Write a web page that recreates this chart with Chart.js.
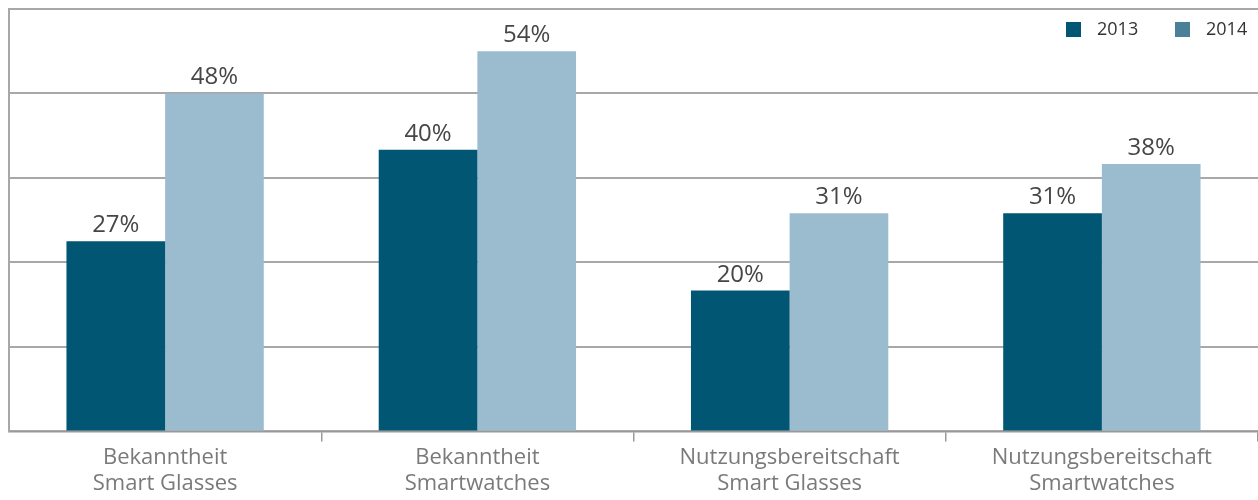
<!DOCTYPE html>
<html>
<head>
<meta charset="utf-8">
<script src="https://cdn.jsdelivr.net/npm/chart.js@4.4.1/dist/chart.umd.min.js"></script>
<style>
    html, body { margin: 0; padding: 0; background: #fff; }
    #wrap { width: 1258px; height: 500px; }
</style>
</head>
<body>
<div id="wrap"><canvas id="ourChart"></canvas></div>
<script>
var categories = [
    ["Bekanntheit", "Smart Glasses"],
    ["Bekanntheit", "Smartwatches"],
    ["Nutzungsbereitschaft", "Smart Glasses"],
    ["Nutzungsbereitschaft", "Smartwatches"]
];
var values2013 = [27, 40, 20, 31];
var values2014 = [48, 54, 31, 38];
var seriesNames = ["2013", "2014"];

var barColors = ["#005673", "#9bbcce"];
var legendColors = ["#005673", "#4a8199"];

// Prozentwerte über die Balken schreiben
var valueLabels = {
    id: 'valueLabels',
    afterDatasetsDraw: function (chart) {
        var ctx = chart.ctx;
        ctx.save();
        ctx.font = '24px "Open Sans"';
        ctx.fillStyle = '#464646';
        ctx.textAlign = 'center';
        ctx.textBaseline = 'alphabetic';
        chart.data.datasets.forEach(function (ds, i) {
            chart.getDatasetMeta(i).data.forEach(function (bar, j) {
                ctx.fillText(ds.data[j] + '%', bar.x, bar.y - 9);
            });
        });
        ctx.restore();
    }
};

// Legende oben rechts im Diagrammbereich
var cornerLegend = {
    id: 'cornerLegend',
    afterDraw: function (chart) {
        var ctx = chart.ctx;
        var area = chart.chartArea;
        var x = area.right - 192;
        var y = area.top + 20;
        ctx.save();
        ctx.font = '18px "Open Sans"';
        ctx.textBaseline = 'middle';
        ctx.textAlign = 'left';
        seriesNames.forEach(function (name, i) {
            ctx.fillStyle = legendColors[i];
            ctx.fillRect(x, y - 7, 15, 15);
            ctx.fillStyle = '#333';
            ctx.fillText(name, x + 31, y + 1);
            x += 109;
        });
        ctx.restore();
    }
};

var chartElement = new Chart(document.getElementById("ourChart"), {
    type: 'bar',
    data: {
        labels: categories,
        datasets: [
            {
                label: seriesNames[0],
                data: values2013,
                backgroundColor: barColors[0],
                borderWidth: 0
            },
            {
                label: seriesNames[1],
                data: values2014,
                backgroundColor: barColors[1],
                borderWidth: 0
            }
        ]
    },
    options: {
        responsive: true,
        maintainAspectRatio: false,
        animation: false,
        layout: {
            padding: { left: 9, top: 9, right: 0, bottom: 0 }
        },
        datasets: {
            bar: {
                barPercentage: 1,
                categoryPercentage: 0.632
            }
        },
        plugins: {
            tooltip: { enabled: false },
            legend: { display: false }
        },
        scales: {
            x: {
                grid: {
                    offset: true,
                    drawOnChartArea: false,
                    tickLength: 10,
                    lineWidth: 1.5,
                    color: function (c) {
                        return (c.index === 0 || c.index === categories.length) ? 'rgba(0,0,0,0)' : '#999';
                    }
                },
                border: { display: true, color: '#999', width: 1.5 },
                ticks: {
                    color: '#7a7a7a',
                    padding: 4,
                    font: { family: 'Open Sans', size: 22, lineHeight: 1.15 }
                }
            },
            y: {
                min: 0,
                max: 60,
                ticks: { display: false, stepSize: 12 },
                grid: {
                    color: '#a8a8a8',
                    lineWidth: 2,
                    drawTicks: false
                },
                border: { display: true, color: '#a8a8a8', width: 2 }
            }
        }
    },
    plugins: [valueLabels, cornerLegend]
});
</script>
</body>
</html>
